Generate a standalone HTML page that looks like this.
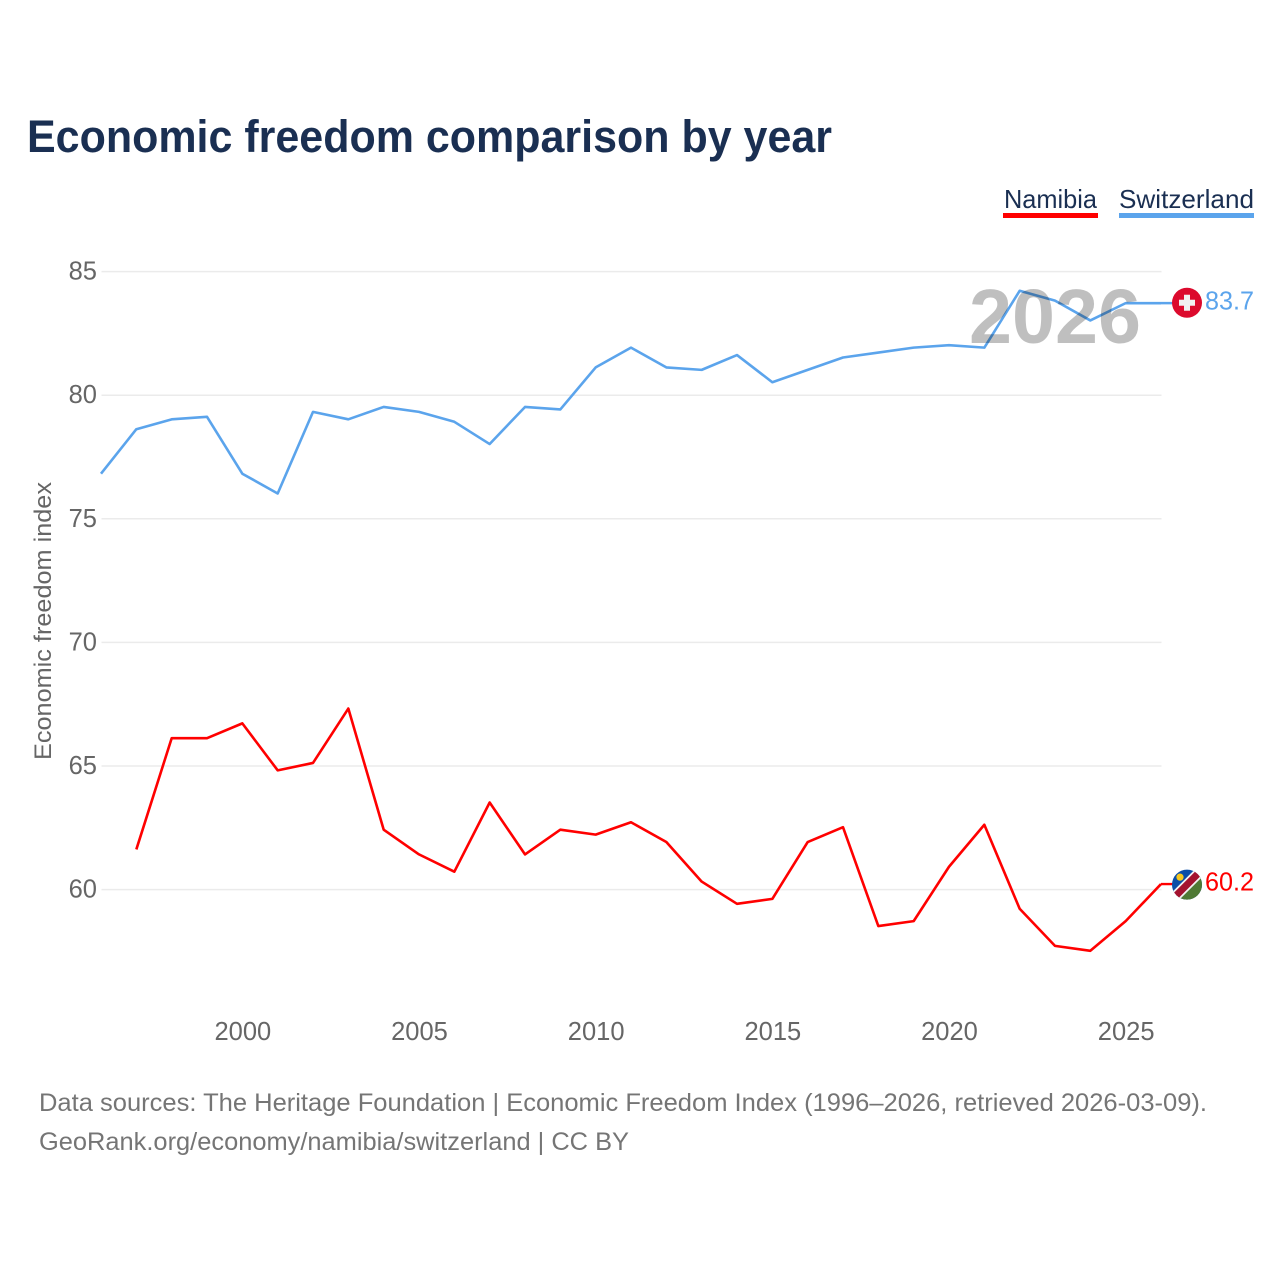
<!DOCTYPE html>
<html lang="en">
<head>
<meta charset="utf-8">
<title>Economic freedom comparison by year</title>
<style>
html,body{margin:0;padding:0;background:#fff;}
svg{display:block;font-family:"Liberation Sans",sans-serif;}
</style>
</head>
<body>
<svg id="chart" width="1280" height="1280" viewBox="0 0 1280 1280" xmlns="http://www.w3.org/2000/svg">
  <rect width="1280" height="1280" fill="#fff"/>
  <text x="27" y="152" font-size="45" font-weight="700" fill="#1a2f52" textLength="805" lengthAdjust="spacingAndGlyphs">Economic freedom comparison by year</text>

  <g>
    <text x="1004" y="208" font-size="26" fill="#1a2f52" textLength="93" lengthAdjust="spacingAndGlyphs">Namibia</text>
    <rect x="1003" y="213" width="95" height="5" fill="#ff0000"/>
  </g>
  <g>
    <text x="1119" y="208" font-size="26" fill="#1a2f52" textLength="135" lengthAdjust="spacingAndGlyphs">Switzerland</text>
    <rect x="1119" y="213" width="135" height="5" fill="#5ba4ec"/>
  </g>

  <g id="grid"></g>
  <g id="y-ticks"></g>
  <g id="x-ticks"></g>
  <text transform="translate(51 621) rotate(-90)" text-anchor="middle" font-size="24" fill="#666" textLength="278" lengthAdjust="spacingAndGlyphs">Economic freedom index</text>

  <g id="series" transform="translate(-0.5 -0.6)"></g>

  <text x="969" y="343" font-size="77" font-weight="700" fill="#000" fill-opacity="0.25" textLength="172" lengthAdjust="spacingAndGlyphs">2026</text>

  <defs>
    <clipPath id="flag-clip"><circle cx="0" cy="0" r="15"/></clipPath>
  </defs>

  <g id="flag-switzerland">
    <circle cx="0" cy="0" r="15" fill="#dc0a2d"/>
    <rect x="-8" y="-3" width="16" height="6" fill="#f1f1f1"/>
    <rect x="-3" y="-8" width="6" height="16" fill="#f1f1f1"/>
  </g>

  <g id="flag-namibia" clip-path="url(#flag-clip)">
    <rect x="-16" y="-16" width="32" height="32" fill="#0a4ea8"/>
    <polygon points="16,-16 16,16 -16,16" fill="#4f7a35"/>
    <line x1="-16" y1="16" x2="16" y2="-16" stroke="#f3f3f3" stroke-width="10.5"/>
    <line x1="-16" y1="16" x2="16" y2="-16" stroke="#a4122f" stroke-width="7"/>
    <circle cx="-7" cy="-7.5" r="3.6" fill="#f6c81e"/>
  </g>

  <g id="value-labels"></g>

  <text x="39" y="1111" font-size="25" fill="#757575" textLength="1168" lengthAdjust="spacingAndGlyphs">Data sources: The Heritage Foundation | Economic Freedom Index (1996–2026, retrieved 2026-03-09).</text>
  <text x="39" y="1150" font-size="25" fill="#757575" textLength="590" lengthAdjust="spacingAndGlyphs">GeoRank.org/economy/namibia/switzerland | CC BY</text>
</svg>

<script>
const years = [1996,1997,1998,1999,2000,2001,2002,2003,2004,2005,2006,2007,2008,2009,2010,2011,2012,2013,2014,2015,2016,2017,2018,2019,2020,2021,2022,2023,2024,2025,2026];
const switzerland = [76.8,78.6,79.0,79.1,76.8,76.0,79.3,79.0,79.5,79.3,78.9,78.0,79.5,79.4,81.1,81.9,81.1,81.0,81.6,80.5,81.0,81.5,81.7,81.9,82.0,81.9,84.2,83.8,83.0,83.7,83.7];
const namibia = [null,61.6,66.1,66.1,66.7,64.8,65.1,67.3,62.4,61.4,60.7,63.5,61.4,62.4,62.2,62.7,61.9,60.3,59.4,59.6,61.9,62.5,58.5,58.7,60.9,62.6,59.2,57.7,57.5,58.7,60.2];
const yTickValues = [60,65,70,75,80,85];
const xTickValues = [2000,2005,2010,2015,2020,2025];

const NS = 'http://www.w3.org/2000/svg';
const xScale = function (year) { return 101.5 + (year - 1996) * (1161.5 - 101.5) / 30; };
const yScale = function (value) { return 889.6 - (value - 60) * (889.6 - 271.6) / 25; };

function make(tag, parent, attrs, text) {
  const el = document.createElementNS(NS, tag);
  for (const k in attrs) { el.setAttribute(k, attrs[k]); }
  if (text !== undefined) { el.textContent = text; }
  parent.appendChild(el);
  return el;
}

const grid = document.getElementById('grid');
const yTicks = document.getElementById('y-ticks');
yTickValues.forEach(function (v) {
  const line = make('line', grid, {x1: xScale(1996), x2: xScale(2026), y1: yScale(v), y2: yScale(v), stroke: '#ebebeb', 'stroke-width': 1.5});
  
  
  const label = make('text', yTicks, {x: 97, y: yScale(v) + 8, 'text-anchor': 'end', 'font-size': 25.5, fill: '#666'}, String(v));
  
  
});

const xTicks = document.getElementById('x-ticks');
xTickValues.forEach(function (v) {
  const label = make('text', xTicks, {x: xScale(v), y: 1040, 'text-anchor': 'middle', 'font-size': 25.5, fill: '#666'}, String(v));
  
  
});

function pathFor(values) {
  const pts = [];
  values.forEach(function (v, i) {
    if (v !== null) { pts.push(xScale(years[i]).toFixed(2) + ',' + yScale(v).toFixed(2)); }
  });
  return pts.join(' ');
}

const series = document.getElementById('series');
const lastIndex = years.length - 1;
const flagX = 1187;

const swissConnector = make('line', series, {x1: xScale(years[lastIndex]), x2: flagX, y1: yScale(switzerland[lastIndex]), y2: yScale(switzerland[lastIndex]), stroke: '#5ba4ec', 'stroke-width': 2.4});



const namibiaConnector = make('line', series, {x1: xScale(years[lastIndex]), x2: flagX, y1: yScale(namibia[lastIndex]), y2: yScale(namibia[lastIndex]), stroke: '#ff0000', 'stroke-width': 2.4});



const swissLine = make('polyline', series, {points: pathFor(switzerland), fill: 'none', stroke: '#5ba4ec', 'stroke-width': 2.6, 'stroke-linejoin': 'round'});



const namibiaLine = make('polyline', series, {points: pathFor(namibia), fill: 'none', stroke: '#ff0000', 'stroke-width': 2.6, 'stroke-linejoin': 'round'});



document.getElementById('flag-switzerland').setAttribute('transform', 'translate(' + flagX + ' ' + (yScale(switzerland[lastIndex]) - 1) + ')');
document.getElementById('flag-namibia').setAttribute('transform', 'translate(' + flagX + ' ' + yScale(namibia[lastIndex]) + ')');

const valueLabels = document.getElementById('value-labels');
const swissValue = make('text', valueLabels, {x: 1205, y: yScale(switzerland[lastIndex]) + 6, 'font-size': 25.5, fill: '#5ba4ec', textLength: 49, lengthAdjust: 'spacingAndGlyphs'}, switzerland[lastIndex].toFixed(1));



const namibiaValue = make('text', valueLabels, {x: 1205, y: yScale(namibia[lastIndex]) + 6, 'font-size': 25.5, fill: '#ff0000', textLength: 49, lengthAdjust: 'spacingAndGlyphs'}, namibia[lastIndex].toFixed(1));


</script>
</body>
</html>
